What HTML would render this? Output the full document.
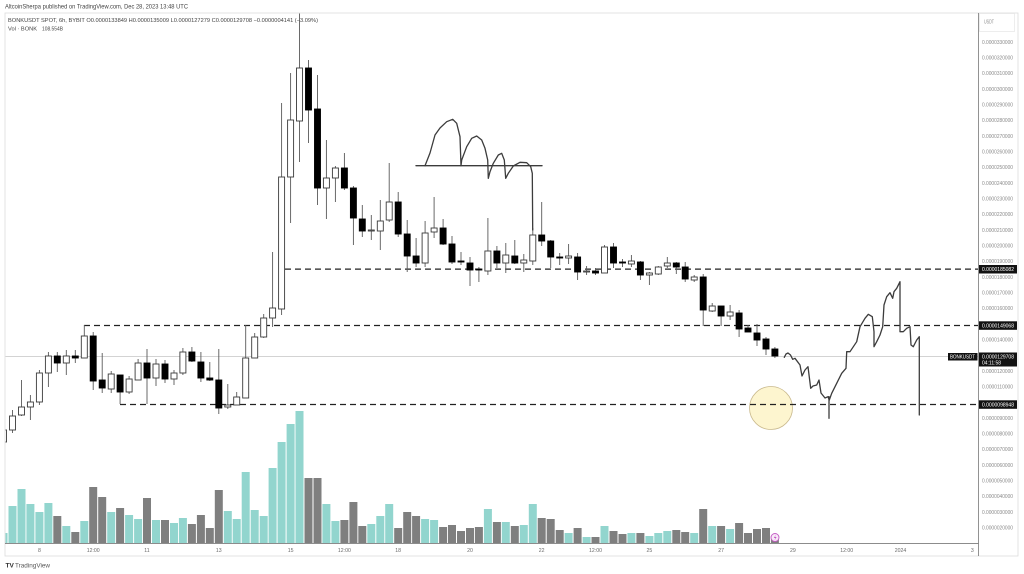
<!DOCTYPE html>
<html><head><meta charset="utf-8"><style>
html,body{margin:0;padding:0;background:#fff;}
svg{display:block;font-family:"Liberation Sans",sans-serif;}
.wk{stroke:#5a5a5a;stroke-width:0.9;fill:none}
.w{fill:#fff;stroke:#3a3a3a;stroke-width:0.9}
.b{fill:#000;stroke:#000;stroke-width:0.9}
.vt{fill:#92d5ce}
.vg{fill:#7f7f7f}
.ax{fill:#8a8a8a;font-size:5px}
.dt{fill:#6a6a6a;font-size:5.2px}
.bx{fill:#fff;font-size:5px}
</style></head><body>
<svg width="1024" height="574" viewBox="0 0 1024 574" xmlns="http://www.w3.org/2000/svg">
<defs><clipPath id="c"><rect x="5.5" y="13.5" width="972.5" height="530"/></clipPath></defs>
<rect width="1024" height="574" fill="#fff"/>
<!-- header -->
<text x="5" y="8.3" font-size="6.3" fill="#444" textLength="183" lengthAdjust="spacingAndGlyphs">AltcoinSherpa published on TradingView.com, Dec 28, 2023 13:48 UTC</text>
<rect x="5" y="13" width="1013" height="543" fill="none" stroke="#dcdcdc" stroke-width="0.8"/>
<text x="8" y="22" font-size="5.6" fill="#444" textLength="310" lengthAdjust="spacingAndGlyphs">BONKUSDT SPOT, 6h, BYBIT  O0.0000133849  H0.0000135009  L0.0000127279  C0.0000129708  −0.0000004141 (−3.09%)</text>
<text x="8" y="30.5" font-size="5.6" fill="#444" textLength="29" lengthAdjust="spacingAndGlyphs">Vol · BONK</text>
<text x="42" y="30.5" font-size="5.6" fill="#444" textLength="21" lengthAdjust="spacingAndGlyphs">108.554B</text>

<g clip-path="url(#c)">
<!-- current price line -->
<line x1="5" y1="356.5" x2="978" y2="356.5" stroke="#c4c4c4" stroke-width="0.8"/>
<!-- volume -->
<g class="vt">
<rect x="-0.5" y="533" width="8" height="10"/><rect x="8.5" y="506" width="8" height="37"/><rect x="17.5" y="489" width="8" height="54"/><rect x="26.4" y="504" width="8" height="39"/><rect x="35.4" y="512" width="8" height="31"/><rect x="44.4" y="503" width="8" height="40"/><rect x="62.3" y="526" width="8" height="17"/><rect x="80.3" y="521" width="8" height="22"/><rect x="107.2" y="512" width="8" height="31"/><rect x="125.1" y="515" width="8" height="28"/><rect x="134.1" y="519" width="8" height="24"/><rect x="152.0" y="520" width="8" height="23"/><rect x="170.0" y="523" width="8" height="20"/><rect x="178.9" y="518" width="8" height="25"/><rect x="223.8" y="511" width="8" height="32"/><rect x="232.7" y="519" width="8" height="24"/><rect x="241.7" y="472" width="8" height="71"/><rect x="250.7" y="510" width="8" height="33"/><rect x="259.7" y="516" width="8" height="27"/><rect x="268.6" y="468" width="8" height="75"/><rect x="277.6" y="442" width="8" height="101"/><rect x="286.6" y="424" width="8" height="119"/><rect x="295.5" y="411" width="8" height="132"/><rect x="322.4" y="504" width="8" height="39"/><rect x="331.4" y="521" width="8" height="22"/><rect x="367.3" y="524" width="8" height="19"/><rect x="376.3" y="516" width="8" height="27"/><rect x="385.2" y="504" width="8" height="39"/><rect x="421.1" y="519" width="8" height="24"/><rect x="430.1" y="520" width="8" height="23"/><rect x="483.9" y="509" width="8" height="34"/><rect x="501.8" y="522" width="8" height="21"/><rect x="519.8" y="525" width="8" height="18"/><rect x="528.8" y="504" width="8" height="39"/><rect x="564.6" y="533" width="8" height="10"/><rect x="582.6" y="537" width="8" height="6"/><rect x="600.5" y="526" width="8" height="17"/><rect x="627.4" y="533" width="8" height="10"/><rect x="645.4" y="536" width="8" height="7"/><rect x="654.3" y="533" width="8" height="10"/><rect x="663.3" y="531" width="8" height="12"/><rect x="690.2" y="533" width="8" height="10"/><rect x="708.2" y="526" width="8" height="17"/><rect x="726.1" y="529" width="8" height="14"/>
</g>
<g class="vg">
<rect x="53.3" y="516" width="8" height="27"/><rect x="71.3" y="532" width="8" height="11"/><rect x="89.2" y="487" width="8" height="56"/><rect x="98.2" y="497" width="8" height="46"/><rect x="116.1" y="508" width="8" height="35"/><rect x="143.0" y="498" width="8" height="45"/><rect x="161.0" y="520" width="8" height="23"/><rect x="187.9" y="524" width="8" height="19"/><rect x="196.9" y="515" width="8" height="28"/><rect x="205.8" y="528" width="8" height="15"/><rect x="214.8" y="490" width="8" height="53"/><rect x="304.5" y="478" width="8" height="65"/><rect x="313.5" y="478" width="8" height="65"/><rect x="340.4" y="520" width="8" height="23"/><rect x="349.4" y="502" width="8" height="41"/><rect x="358.3" y="526" width="8" height="17"/><rect x="394.2" y="528" width="8" height="15"/><rect x="403.2" y="512" width="8" height="31"/><rect x="412.1" y="516" width="8" height="27"/><rect x="439.1" y="527" width="8" height="16"/><rect x="448.0" y="525" width="8" height="18"/><rect x="457.0" y="531" width="8" height="12"/><rect x="466.0" y="528" width="8" height="15"/><rect x="474.9" y="527" width="8" height="16"/><rect x="492.9" y="522" width="8" height="21"/><rect x="510.8" y="526" width="8" height="17"/><rect x="537.7" y="518" width="8" height="25"/><rect x="546.7" y="519" width="8" height="24"/><rect x="555.7" y="530" width="8" height="13"/><rect x="573.6" y="528" width="8" height="15"/><rect x="591.5" y="537" width="8" height="6"/><rect x="609.5" y="531" width="8" height="12"/><rect x="618.5" y="534" width="8" height="9"/><rect x="636.4" y="533" width="8" height="10"/><rect x="672.3" y="530" width="8" height="13"/><rect x="681.2" y="532" width="8" height="11"/><rect x="699.2" y="509" width="8" height="34"/><rect x="717.1" y="526" width="8" height="17"/><rect x="735.1" y="523" width="8" height="20"/><rect x="744.0" y="533" width="8" height="10"/><rect x="753.0" y="529" width="8" height="14"/><rect x="762.0" y="528" width="8" height="15"/><rect x="770.9" y="538" width="8" height="5"/>
</g>

<!-- circle -->
<circle cx="771" cy="408" r="21.5" fill="#fdf5cf" stroke="#c9b98d" stroke-width="0.8"/>

<!-- dashed levels -->
<g stroke="#222" stroke-width="1.2" stroke-dasharray="6 4" fill="none">
<line x1="285" y1="269.1" x2="978" y2="269.1"/>
<line x1="84" y1="325.5" x2="978" y2="325.5"/>
<line x1="120" y1="404.5" x2="978" y2="404.5"/>
</g>

<!-- wicks -->
<path class="wk" d="M3.5 428V444M12.5 410V433M21.5 380V416M30.4 395V420M39.4 370V405M48.4 352V387M57.3 352V372M66.3 350V375M75.3 350V363M84.3 325V358M93.2 332V390M102.2 353V393M111.2 371V393M120.1 375V404M129.1 376V394M138.1 359V380M147 349V404M156 359V386M165 360V383M174 370V385M182.9 348V375M191.9 347V362M200.9 352V382M209.8 362V381M218.8 349V414M227.8 384V409M236.7 392V405M245.7 325V398M254.7 333V358M263.7 314V338M272.6 252V327M281.6 103V315M290.6 73V223M299.5 13V162M308.5 60V143M317.5 75V205M326.4 140V219M335.4 166V202M344.4 153V190M353.4 186V245M362.3 205V237M371.3 215V240M380.3 200V250M389.2 163V222M398.2 192V237M407.2 220V272M416.1 238V267M425.1 221V267M434.1 197V238M443.1 219V245M452 236V264M461 252V265M470 257V286M478.9 267V282M487.9 218V275M496.9 246V268M505.8 243V273M514.8 240V264M523.8 254V272M532.8 228V265M541.7 202V246M550.7 240V268M559.7 253V265M568.6 244V264M577.6 253V280M586.6 266V275M595.5 268V275M604.5 245V273M613.5 243V268M622.5 259V267M631.4 255V267M640.4 261V280M649.4 272V285M658.3 266V275M667.3 257V268M676.3 262V274M685.2 262V282M694.2 275V282M703.2 274V326M712.2 303V312M721.1 306V326M730.1 305V320M739.1 310V337M748 325V332M757 324V346M766 337V355M774.9 347V358"/>

<!-- bodies white -->
<g class="w">
<rect x="0.5" y="430" width="6" height="12"/><rect x="9.5" y="416" width="6" height="14"/><rect x="18.5" y="407" width="6" height="8"/><rect x="27.4" y="402" width="6" height="5"/><rect x="36.4" y="373" width="6" height="29"/><rect x="45.4" y="356" width="6" height="17"/><rect x="63.3" y="356" width="6" height="7"/><rect x="81.3" y="336" width="6" height="22"/><rect x="108.2" y="374" width="6" height="15"/><rect x="126.1" y="379" width="6" height="13"/><rect x="135.1" y="363" width="6" height="17"/><rect x="153" y="364" width="6" height="14"/><rect x="171" y="373" width="6" height="6"/><rect x="179.9" y="352" width="6" height="21"/><rect x="224.8" y="405" width="6" height="2"/><rect x="233.7" y="397" width="6" height="8"/><rect x="242.7" y="358" width="6" height="40"/><rect x="251.7" y="337" width="6" height="21"/><rect x="260.7" y="318" width="6" height="19"/><rect x="269.6" y="308" width="6" height="10"/><rect x="278.6" y="177" width="6" height="132"/><rect x="287.6" y="120" width="6" height="57"/><rect x="296.5" y="68" width="6" height="53"/><rect x="323.4" y="178" width="6" height="10"/><rect x="332.4" y="168" width="6" height="10"/><rect x="368.3" y="230" width="6" height="1"/><rect x="377.3" y="221" width="6" height="10"/><rect x="386.2" y="202" width="6" height="18"/><rect x="422.1" y="233" width="6" height="30"/><rect x="431.1" y="228" width="6" height="4"/><rect x="484.9" y="251" width="6" height="20"/><rect x="502.8" y="255" width="6" height="8"/><rect x="520.8" y="260" width="6" height="3"/><rect x="529.8" y="235" width="6" height="26"/><rect x="565.6" y="256" width="6" height="2"/><rect x="583.6" y="271" width="6" height="1"/><rect x="601.5" y="247" width="6" height="26"/><rect x="628.4" y="261" width="6" height="3"/><rect x="646.4" y="273" width="6" height="2"/><rect x="655.3" y="267" width="6" height="7"/><rect x="664.3" y="263" width="6" height="3"/><rect x="691.2" y="277" width="6" height="3"/><rect x="709.2" y="306" width="6" height="5"/><rect x="727.1" y="312" width="6" height="4"/>
</g>
<!-- bodies black -->
<g class="b">
<rect x="54.3" y="356" width="6" height="7"/><rect x="72.3" y="356" width="6" height="2"/><rect x="90.2" y="336" width="6" height="45"/><rect x="99.2" y="380" width="6" height="8"/><rect x="117.1" y="375" width="6" height="17"/><rect x="144" y="363" width="6" height="15"/><rect x="162" y="364" width="6" height="15"/><rect x="188.9" y="352" width="6" height="9"/><rect x="197.9" y="362" width="6" height="16"/><rect x="206.8" y="378" width="6" height="2"/><rect x="215.8" y="380" width="6" height="28"/><rect x="305.5" y="68" width="6" height="42"/><rect x="314.5" y="109" width="6" height="79"/><rect x="341.4" y="168" width="6" height="20"/><rect x="350.4" y="188" width="6" height="30"/><rect x="359.3" y="219" width="6" height="12"/><rect x="395.2" y="202" width="6" height="32"/><rect x="404.2" y="234" width="6" height="22"/><rect x="413.1" y="256" width="6" height="7"/><rect x="440.1" y="228" width="6" height="16"/><rect x="449" y="244" width="6" height="18"/><rect x="458" y="261" width="6" height="1"/><rect x="467" y="263" width="6" height="7"/><rect x="475.9" y="269" width="6" height="1"/><rect x="493.9" y="251" width="6" height="12"/><rect x="511.8" y="256" width="6" height="7"/><rect x="538.7" y="235" width="6" height="6"/><rect x="547.7" y="241" width="6" height="16"/><rect x="556.7" y="257" width="6" height="1"/><rect x="574.6" y="257" width="6" height="15"/><rect x="592.5" y="271" width="6" height="2"/><rect x="610.5" y="247" width="6" height="16"/><rect x="619.5" y="262" width="6" height="1"/><rect x="637.4" y="262" width="6" height="13"/><rect x="673.3" y="263" width="6" height="4"/><rect x="682.2" y="267" width="6" height="12"/><rect x="700.2" y="277" width="6" height="33"/><rect x="718.1" y="306" width="6" height="10"/><rect x="736.1" y="313" width="6" height="16"/><rect x="745" y="328" width="6" height="4"/><rect x="754" y="333" width="6" height="7"/><rect x="763" y="339" width="6" height="10"/><rect x="771.9" y="349" width="6" height="7"/>
</g>

<!-- drawings -->
<g fill="none" stroke="#3c3c3c" stroke-width="1.3" stroke-linejoin="round" stroke-linecap="round">
<line x1="416" y1="165.7" x2="542" y2="165.7"/>
<polyline points="425,165.7 430,153 435,135 440,128 446.7,121.7 452.7,119.3 456.7,123.3 460,136.7 461,165.7 461.7,160 466.7,146.7 471.7,138.3 476.7,136 481.7,140 485,148.3 487.7,160 488.3,178.3 490,171.7 493.3,163.3 498.3,155 501.7,153.3 504.3,160 505.7,178.3 508.3,173.3 513.3,166 520,162.3 526.7,162.7 530.7,166.7 532.3,173.3 532.7,230"/>
<polyline points="784.3,357.3 786,354 788,353 790.5,355 792.7,359.3 795,358.3 800,365 802,376 805,370 808,366.7 810.7,388.3 813,386 816.7,385 819,380 821,393 825,398 828,396.7 829.3,400 831.7,393.3 836.7,383.3 841.7,373.3 846,368.3 846.7,351.7 850,351.7 856.7,341.7 860,326.7 865,318.3 868.3,314.3 872.3,316.7 874,331.7 874,346.7 876.7,341.7 880,335 882.7,326.7 884,305 886.7,296.7 890,292.7 892.7,298.3 894,291.7 896.7,288.3 900,281.7 900,331.7 903.3,331.7 906.7,328.3 910,326.7 911,345 913.3,346.7 916.7,340 919.3,336.7 919.3,415"/>
<line x1="829" y1="396.7" x2="829" y2="418.3"/>
</g>
</g>

<!-- purple icon -->
<circle cx="775" cy="537.5" r="4" fill="#f8eaf8" stroke="#c45ac4" stroke-width="0.9"/>
<path d="M776 534.5 L773.8 538 L775.4 538 L774.4 540.6 L776.6 537 L775 537 Z" fill="#c45ac4"/>

<!-- axes lines -->
<line x1="5" y1="543.5" x2="978.5" y2="543.5" stroke="#666" stroke-width="0.8"/>
<line x1="978.5" y1="13" x2="978.5" y2="556" stroke="#777" stroke-width="0.8"/>

<!-- USDT box -->
<rect x="979.5" y="13.5" width="35" height="18" fill="#fff" stroke="#e6e6e6" stroke-width="0.7"/>
<text x="984" y="23.5" class="ax" textLength="10" lengthAdjust="spacingAndGlyphs">USDT</text>

<!-- price axis labels -->
<g class="ax">
<text x="982" y="43.8" textLength="31" lengthAdjust="spacingAndGlyphs">0.0000330000</text>
<text x="982" y="59.5" textLength="31" lengthAdjust="spacingAndGlyphs">0.0000320000</text>
<text x="982" y="75.1" textLength="31" lengthAdjust="spacingAndGlyphs">0.0000310000</text>
<text x="982" y="90.8" textLength="31" lengthAdjust="spacingAndGlyphs">0.0000300000</text>
<text x="982" y="106.5" textLength="31" lengthAdjust="spacingAndGlyphs">0.0000290000</text>
<text x="982" y="122.2" textLength="31" lengthAdjust="spacingAndGlyphs">0.0000280000</text>
<text x="982" y="137.8" textLength="31" lengthAdjust="spacingAndGlyphs">0.0000270000</text>
<text x="982" y="153.5" textLength="31" lengthAdjust="spacingAndGlyphs">0.0000260000</text>
<text x="982" y="169.2" textLength="31" lengthAdjust="spacingAndGlyphs">0.0000250000</text>
<text x="982" y="184.8" textLength="31" lengthAdjust="spacingAndGlyphs">0.0000240000</text>
<text x="982" y="200.5" textLength="31" lengthAdjust="spacingAndGlyphs">0.0000230000</text>
<text x="982" y="216.2" textLength="31" lengthAdjust="spacingAndGlyphs">0.0000220000</text>
<text x="982" y="231.8" textLength="31" lengthAdjust="spacingAndGlyphs">0.0000210000</text>
<text x="982" y="247.5" textLength="31" lengthAdjust="spacingAndGlyphs">0.0000200000</text>
<text x="982" y="263.2" textLength="31" lengthAdjust="spacingAndGlyphs">0.0000190000</text>
<text x="982" y="278.9" textLength="31" lengthAdjust="spacingAndGlyphs">0.0000180000</text>
<text x="982" y="294.5" textLength="31" lengthAdjust="spacingAndGlyphs">0.0000170000</text>
<text x="982" y="310.2" textLength="31" lengthAdjust="spacingAndGlyphs">0.0000160000</text>
<text x="982" y="341.6" textLength="31" lengthAdjust="spacingAndGlyphs">0.0000140000</text>
<text x="982" y="372.9" textLength="31" lengthAdjust="spacingAndGlyphs">0.0000120000</text>
<text x="982" y="388.6" textLength="31" lengthAdjust="spacingAndGlyphs">0.0000110000</text>
<text x="982" y="419.9" textLength="31" lengthAdjust="spacingAndGlyphs">0.0000090000</text>
<text x="982" y="435.6" textLength="31" lengthAdjust="spacingAndGlyphs">0.0000080000</text>
<text x="982" y="451.2" textLength="31" lengthAdjust="spacingAndGlyphs">0.0000070000</text>
<text x="982" y="466.9" textLength="31" lengthAdjust="spacingAndGlyphs">0.0000060000</text>
<text x="982" y="482.6" textLength="31" lengthAdjust="spacingAndGlyphs">0.0000050000</text>
<text x="982" y="498.2" textLength="31" lengthAdjust="spacingAndGlyphs">0.0000040000</text>
<text x="982" y="513.9" textLength="31" lengthAdjust="spacingAndGlyphs">0.0000030000</text>
<text x="982" y="529.6" textLength="31" lengthAdjust="spacingAndGlyphs">0.0000020000</text>
</g>

<!-- highlighted boxes -->
<rect x="979" y="265" width="38" height="8.5" fill="#111"/>
<text x="982" y="271.1" class="bx" textLength="32" lengthAdjust="spacingAndGlyphs">0.0000185082</text>
<rect x="979" y="321.3" width="38" height="8.5" fill="#111"/>
<text x="982" y="327.4" class="bx" textLength="32" lengthAdjust="spacingAndGlyphs">0.0000149068</text>
<rect x="979" y="352.5" width="38" height="14" fill="#111"/>
<text x="982" y="358.5" class="bx" textLength="32" lengthAdjust="spacingAndGlyphs">0.0000129708</text>
<text x="982" y="364.7" class="bx" textLength="19" lengthAdjust="spacingAndGlyphs">04:11:58</text>
<rect x="979" y="400.3" width="38" height="8.5" fill="#111"/>
<text x="982" y="406.4" class="bx" textLength="32" lengthAdjust="spacingAndGlyphs">0.0000098948</text>
<rect x="948" y="353" width="29.5" height="7.5" fill="#111"/>
<text x="950" y="358.6" class="bx" font-size="4.6" textLength="25" lengthAdjust="spacingAndGlyphs">BONKUSDT</text>

<!-- date labels -->
<g class="dt" text-anchor="middle">
<text x="39.4" y="552">8</text>
<text x="93.2" y="552">12:00</text>
<text x="147" y="552">11</text>
<text x="218.8" y="552">13</text>
<text x="290.6" y="552">15</text>
<text x="344.4" y="552">12:00</text>
<text x="398.2" y="552">18</text>
<text x="470" y="552">20</text>
<text x="541.7" y="552">22</text>
<text x="595.5" y="552">12:00</text>
<text x="649.4" y="552">25</text>
<text x="721.1" y="552">27</text>
<text x="792.9" y="552">29</text>
<text x="846.7" y="552">12:00</text>
<text x="900.5" y="552">2024</text>
<text x="972.3" y="552">3</text>
</g>

<!-- footer logo -->
<text x="5.5" y="567.5" font-size="6.5" font-weight="bold" fill="#333">TV</text>
<text x="15" y="567.5" font-size="6" fill="#555" textLength="35" lengthAdjust="spacingAndGlyphs">TradingView</text>
</svg>
</body></html>
